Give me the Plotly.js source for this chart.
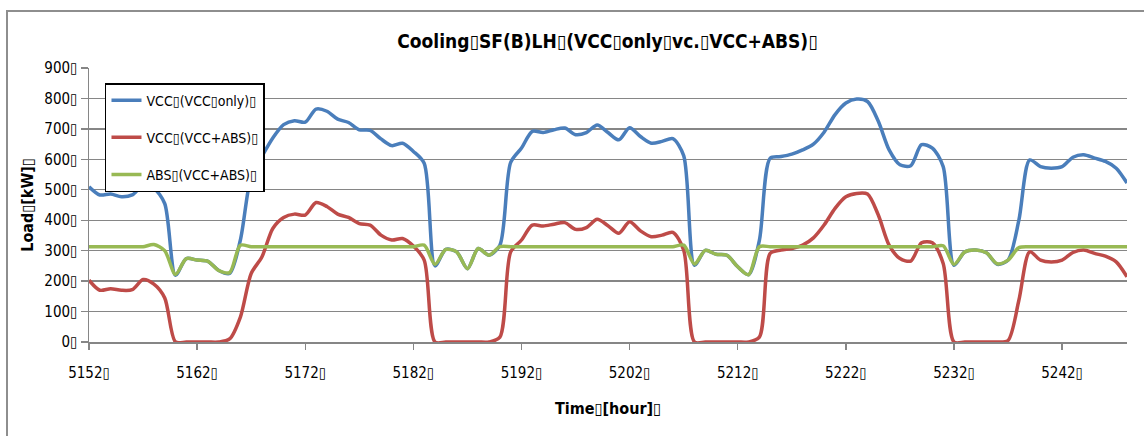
<!DOCTYPE html>
<html>
<head>
<meta charset="utf-8">
<script src="https://cdn.plot.ly/plotly-3.0.1.min.js"></script>
<style>
  html, body { margin: 0; padding: 0; background: #fff; }
  #chart { width: 1144px; height: 436px; }
</style>
</head>
<body>
<div id="chart"></div>
<script>
// Hourly cooling load, hours 5152-5248
const hours = [
  5152, 5153, 5154, 5155, 5156, 5157, 5158, 5159, 5160, 5161,
  5162, 5163, 5164, 5165, 5166, 5167, 5168, 5169, 5170, 5171,
  5172, 5173, 5174, 5175, 5176, 5177, 5178, 5179, 5180, 5181,
  5182, 5183, 5184, 5185, 5186, 5187, 5188, 5189, 5190, 5191,
  5192, 5193, 5194, 5195, 5196, 5197, 5198, 5199, 5200, 5201,
  5202, 5203, 5204, 5205, 5206, 5207, 5208, 5209, 5210, 5211,
  5212, 5213, 5214, 5215, 5216, 5217, 5218, 5219, 5220, 5221,
  5222, 5223, 5224, 5225, 5226, 5227, 5228, 5229, 5230, 5231,
  5232, 5233, 5234, 5235, 5236, 5237, 5238, 5239, 5240, 5241,
  5242, 5243, 5244, 5245, 5246, 5247, 5248
];

// VCC load, VCC-only system [kW]
const vccOnly = [
  510, 483, 486, 477, 483, 515, 505, 455, 219, 274,
  269, 265, 235, 225, 335, 545, 610, 670, 714, 727,
  722, 765, 758, 732, 721, 697, 695, 667, 645, 653,
  626, 587, 250, 304, 296, 241, 307, 285, 318, 590,
  637, 692, 688, 697, 703, 681, 688, 713, 688, 664,
  704, 675, 653, 659, 668, 612, 252, 301, 288, 285,
  247, 221, 334, 604, 609, 617, 631, 650, 690, 747,
  785, 798, 790, 725, 631, 582, 579, 648, 637, 576,
  252, 296, 302, 293, 255, 269, 400, 598, 576, 571,
  576, 607, 615, 604, 593, 571, 522
];

// VCC load, VCC+ABS system [kW]
const vccWithAbs = [
  203, 170, 175, 170, 172, 205, 190, 145, 0, 0,
  0, 0, 0, 10, 82, 225, 280, 373, 409, 420,
  417, 458, 445, 420, 409, 389, 384, 351, 335, 340,
  315, 269, 0, 0, 0, 0, 0, 0, 16, 296,
  335, 384, 381, 387, 392, 370, 376, 403, 382, 357,
  395, 365, 346, 351, 360, 302, 0, 0, 0, 0,
  0, 0, 16, 291, 302, 307, 318, 342, 385, 439,
  477, 488, 486, 417, 318, 274, 266, 326, 326, 258,
  0, 0, 0, 0, 0, 5, 137, 296, 269, 263,
  269, 294, 302, 291, 282, 263, 214
];

// ABS load, VCC+ABS system [kW]
const absWithAbs = [
  313, 313, 313, 313, 313, 313, 320, 300, 222, 274,
  269, 265, 235, 228, 318, 313, 313, 313, 313, 313,
  313, 313, 313, 313, 313, 313, 313, 313, 313, 313,
  313, 318, 255, 304, 296, 241, 307, 285, 313, 313,
  313, 313, 313, 313, 313, 313, 313, 313, 313, 313,
  313, 313, 313, 313, 313, 318, 256, 301, 288, 285,
  247, 221, 313, 313, 313, 313, 313, 313, 313, 313,
  313, 313, 313, 313, 313, 313, 313, 313, 313, 316,
  255, 296, 302, 293, 257, 269, 310, 313, 313, 313,
  313, 313, 313, 313, 313, 313, 313
];

const seriesNames = ['VCC\u25AF(VCC\u25AFonly)\u25AF', 'VCC\u25AF(VCC+ABS)\u25AF', 'ABS\u25AF(VCC+ABS)\u25AF'];
const seriesColors = ['#4a7ebb', '#be4b48', '#98b954'];

const xTickVals = [5152, 5162, 5172, 5182, 5192, 5202, 5212, 5222, 5232, 5242];
const xTickText = ['5152\u25AF', '5162\u25AF', '5172\u25AF', '5182\u25AF', '5192\u25AF', '5202\u25AF', '5212\u25AF', '5222\u25AF', '5232\u25AF', '5242\u25AF'];
const yTickVals = [0, 100, 200, 300, 400, 500, 600, 700, 800, 900];
const yTickText = ['0\u25AF', '100\u25AF', '200\u25AF', '300\u25AF', '400\u25AF', '500\u25AF', '600\u25AF', '700\u25AF', '800\u25AF', '900\u25AF'];

const chartTitle = 'Cooling\u25AFSF(B)LH\u25AF(VCC\u25AFonly\u25AFvc.\u25AFVCC+ABS)\u25AF';
const xTitle = 'Time\u25AF[hour]\u25AF';
const yTitle = 'Load\u25AF[kW]\u25AF';

const FONT = '"Liberation Sans Narrow", "DejaVu Sans Condensed", "Arial Narrow", sans-serif';
const GRID = '#868686';

const seriesValues = [vccOnly, vccWithAbs, absWithAbs];
const traces = seriesValues.map((vals, i) => ({
  x: hours,
  y: vals,
  type: 'scatter',
  mode: 'lines',
  name: seriesNames[i],
  legendgroup: 'g' + i,
  line: { color: seriesColors[i], width: 3.5, shape: 'spline', smoothing: 0.8 },
  hoverinfo: 'x+y+name'
}));

const layout = {
  width: 1144,
  height: 436,
  margin: { l: 89, r: 17, t: 68, b: 94 },
  paper_bgcolor: '#ffffff',
  plot_bgcolor: '#ffffff',
  font: { family: FONT, color: '#000' },
  title: {
    text: chartTitle,
    font: { family: FONT, size: 19, weight: 'bold', color: '#000' },
    x: 0.531, xanchor: 'center', xref: 'container',
    y: 0.906, yanchor: 'middle', yref: 'container'
  },
  showlegend: true,
  legend: {
    x: 0.0154, y: 0.945, xanchor: 'left', yanchor: 'top',
    bgcolor: '#ffffff', bordercolor: '#000000', borderwidth: 1.5,
    font: { family: FONT, size: 14, color: '#000' },
    traceorder: 'grouped', tracegroupgap: 16
  },
  xaxis: {
    range: [5152, 5248],
    tickmode: 'array', tickvals: xTickVals, ticktext: xTickText,
    ticks: 'outside', ticklen: 6, tickwidth: 1.3, tickcolor: GRID,
    ticklabelstandoff: 10,
    tickfont: { family: FONT, size: 15, color: '#000' },
    showgrid: false, zeroline: false,
    showline: true, linecolor: GRID, linewidth: 1.5,
    title: { text: xTitle, font: { family: FONT, size: 16, weight: 'bold', color: '#000' }, standoff: 22 },
    automargin: false
  },
  yaxis: {
    range: [0, 900],
    tickmode: 'array', tickvals: yTickVals, ticktext: yTickText,
    ticks: 'outside', ticklen: 7, tickwidth: 1.3, tickcolor: GRID,
    tickfont: { family: FONT, size: 15, color: '#000' },
    showgrid: true, gridcolor: GRID, gridwidth: 1.3,
    zeroline: false,
    showline: true, linecolor: GRID, linewidth: 1.5,
    title: { text: yTitle, font: { family: FONT, size: 16, weight: 'bold', color: '#000' }, standoff: 6 },
    automargin: false
  },
  shapes: [{
    // chart-area frame
    type: 'rect', xref: 'paper', yref: 'paper',
    x0: -0.079, x1: 1.03, y0: -0.4, y1: 1.208,
    line: { color: '#8e8e8e', width: 2 }, fillcolor: 'rgba(0,0,0,0)', layer: 'below'
  }]
};

Plotly.newPlot('chart', traces, layout, { displayModeBar: false, staticPlot: true });
</script>
</body>
</html>
